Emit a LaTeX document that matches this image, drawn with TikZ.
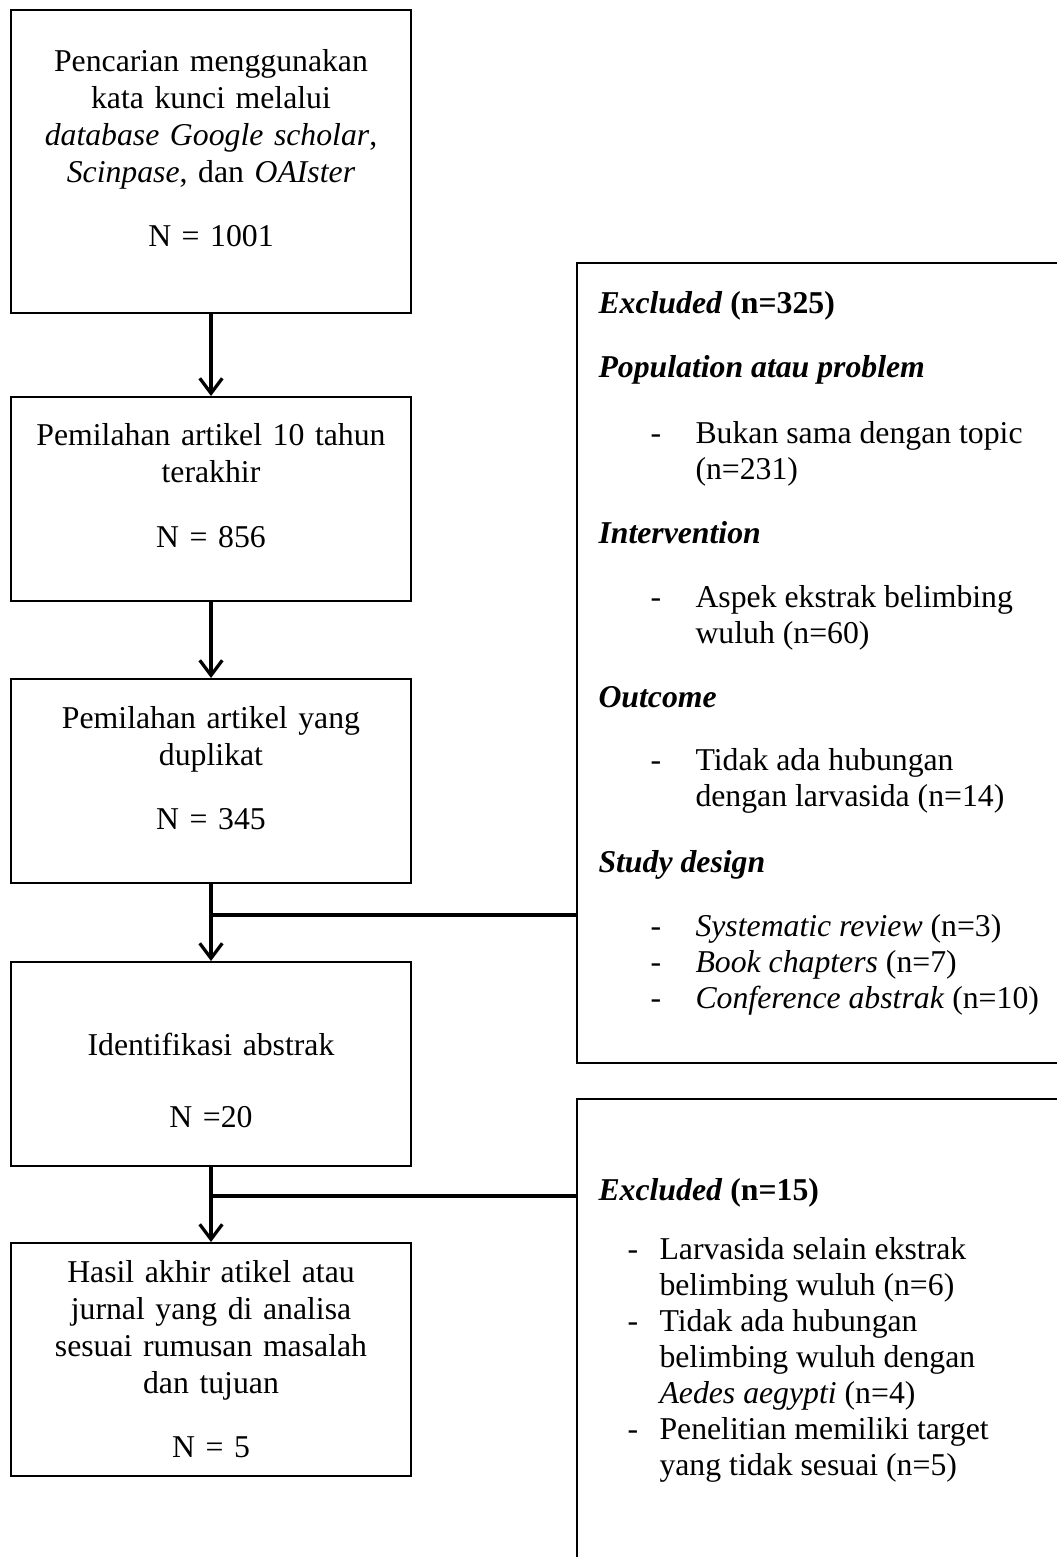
\documentclass[tikz,border=0pt]{standalone}
\usepackage{fontspec}
\setmainfont{Liberation Serif}
\usetikzlibrary{arrows.meta}

\begin{document}
\begin{tikzpicture}[x=0.4pt,y=-0.4pt,font=\fontsize{12.7}{14.8}\selectfont,
	stepbox/.style={draw,line width=0.8pt,text width=150pt,align=center,
		inner xsep=5pt,inner ysep=0pt,minimum width=160pt,text height=8pt},
	exbox/.style={draw,line width=0.8pt,minimum width=199.2pt},
	link/.style={line width=1.3pt},
	flow/.style={link,-{Straight Barb[length=6pt,width=9pt]}},
	txt/.style={anchor=base west,inner sep=0pt}]
	\useasboundingbox (0,0) rectangle (1057,1557);
	\clip (0,0) rectangle (1057,1557);

	% left column
	\node[stepbox,minimum height=121.2pt,text depth=79.6pt] (b1) at (211,161.5)
	{Pencarian menggunakan\\ kata kunci melalui\\ \textit{database Google scholar},\\ \textit{Scinpase}, dan \textit{OAIster}\\[10.8pt] N = 1001};
	\node[stepbox,minimum height=81.6pt,text depth=50.4pt] (b2) at (211,499)
	{Pemilahan artikel 10 tahun\\ terakhir\\[10.8pt] N = 856};
	\node[stepbox,minimum height=81.6pt,text depth=50.4pt] (b3) at (211,781)
	{Pemilahan artikel yang\\ duplikat\\[10.8pt] N = 345};
	\node[stepbox,minimum height=81.6pt,text depth=15.2pt] (b4) at (211,1064)
	{Identifikasi abstrak\\[14pt] N =20};
	\node[stepbox,minimum height=93.2pt,text depth=70pt] (b5) at (211,1359.5)
	{Hasil akhir atikel atau\\ jurnal yang di analisa\\ sesuai rumusan masalah\\ dan tujuan\\[10.8pt] N = 5};

	% excluded boxes
	\node[exbox,minimum height=320pt] (ex1) at (826,663) {};
	\node[exbox,minimum height=200.4pt] (ex2) at (826,1349.5) {};

	\node[txt] (h1) at (598,314) {\textbf{\textit{Excluded} (n=325)}};
	\node[txt] (h2) at (598,378) {\textbf{\textit{Population atau problem}}};
	\node[txt] (d1) at (650,444) {-};
	\node[txt] (i1) at (695,444) {Bukan sama dengan topic};
	\node[txt] (i1b) at (695,480) {(n=231)};
	\node[txt] (h3) at (598,543) {\textbf{\textit{Intervention}}};
	\node[txt] (d2) at (650,607) {-};
	\node[txt] (i2) at (695,607) {Aspek ekstrak belimbing};
	\node[txt] (i2b) at (695,643) {wuluh (n=60)};
	\node[txt] (h4) at (598,707) {\textbf{\textit{Outcome}}};
	\node[txt] (d3) at (650,770) {-};
	\node[txt] (i3) at (695,770) {Tidak ada hubungan};
	\node[txt] (i3b) at (695,806) {dengan larvasida (n=14)};
	\node[txt] (h5) at (598,872) {\textbf{\textit{Study design}}};
	\node[txt] (d4) at (650,936) {-};
	\node[txt] (i4) at (695,936) {\textit{Systematic review} (n=3)};
	\node[txt] (d5) at (650,972) {-};
	\node[txt] (i5) at (695,972) {\textit{Book chapters} (n=7)};
	\node[txt] (d6) at (650,1008) {-};
	\node[txt] (i6) at (695,1008) {\textit{Conference abstrak} (n=10)};

	\node[txt] (h6) at (598,1200) {\textbf{\textit{Excluded} (n=15)}};
	\node[txt] (d7) at (627,1259) {-};
	\node[txt] (k1) at (659,1259) {Larvasida selain ekstrak};
	\node[txt] (k1b) at (659,1295) {belimbing wuluh (n=6)};
	\node[txt] (d8) at (627,1331) {-};
	\node[txt] (k2) at (659,1331) {Tidak ada hubungan};
	\node[txt] (k2b) at (659,1367) {belimbing wuluh dengan};
	\node[txt] (k2c) at (659,1403) {\textit{Aedes aegypti} (n=4)};
	\node[txt] (d9) at (627,1439) {-};
	\node[txt] (k3) at (659,1439) {Penelitian memiliki target};
	\node[txt] (k3b) at (659,1475) {yang tidak sesuai (n=5)};

	% connectors
	\draw[flow] (b1) -- (b2);
	\draw[flow] (b2) -- (b3);
	\draw[flow] (b3) -- (b4);
	\draw[flow] (b4) -- (b5);
	\coordinate (j1) at (211,915);
	\coordinate (j2) at (211,1196);
	\draw[link] (j1) -- (j1 -| ex1.west);
	\draw[link] (j2) -- (j2 -| ex2.west);
\end{tikzpicture}
\end{document}
